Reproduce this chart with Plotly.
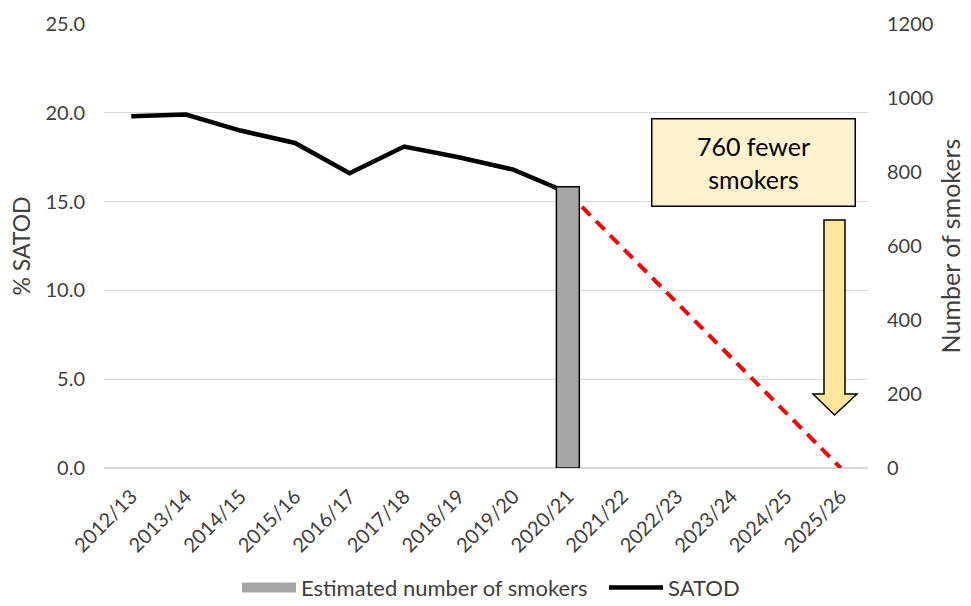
import plotly.graph_objects as go

years = ["2012/13", "2013/14", "2014/15", "2015/16", "2016/17", "2017/18", "2018/19",
         "2019/20", "2020/21", "2021/22", "2022/23", "2023/24", "2024/25", "2025/26"]
satod_years = years[:9]
satod = [19.8, 19.9, 19.0, 18.3, 16.6, 18.1, 17.5, 16.8, 15.5]
bar_years = ["2020/21"]
smokers = [760]
proj_years = ["2020/21", "2025/26"]
proj = [15.5, 0.0]

FONT = "Lato, Calibri, sans-serif"
TXT = "#404040"
BAR_COLOR = "#a6a6a6"

fig = go.Figure()
fig.add_trace(go.Bar(x=bar_years, y=smokers, yaxis="y2", name="Estimated number of smokers",
                     width=0.42, showlegend=False,
                     marker=dict(color=BAR_COLOR, line=dict(color="#000000", width=1.5))))
# legend-only entry drawn as a wide grey swatch
fig.add_trace(go.Scatter(x=[None], y=[None], mode="lines", name="Estimated number of smokers",
                         line=dict(color=BAR_COLOR, width=14)))
fig.add_trace(go.Scatter(x=satod_years, y=satod, mode="lines", name="SATOD",
                         line=dict(color="#000000", width=4.5)))
fig.add_trace(go.Scatter(x=proj_years, y=proj, mode="lines", showlegend=False,
                         line=dict(color="#ff0000", width=4, dash="12px,8px")))

# annotation box
fig.add_annotation(xref="paper", yref="paper", x=0.850, y=0.687, xanchor="center", yanchor="middle",
                   text="760 fewer<br>smokers", showarrow=False,
                   font=dict(family=FONT, size=25, color="#000000"),
                   bgcolor="#fff2cc", bordercolor="#000000", borderwidth=1.5,
                   width=200, height=84)

# down arrow
fig.add_shape(type="path", xref="paper", yref="paper",
              path="M 0.9424,0.5586 L 0.9699,0.5586 L 0.9699,0.1667 L 0.9856,0.1667 "
                   "L 0.9562,0.1194 L 0.9280,0.1667 L 0.9424,0.1667 Z",
              fillcolor="#ffe699", line=dict(color="#000000", width=1.5))

fig.update_layout(
    width=971, height=606,
    margin=dict(l=104, r=103, t=24, b=138),
    paper_bgcolor="#ffffff", plot_bgcolor="#ffffff",
    font=dict(family=FONT, size=20, color=TXT),
    showlegend=True,
    legend=dict(orientation="h", x=0.185, xanchor="left", yref="container", y=0.03,
                yanchor="middle", font=dict(family=FONT, size=22, color=TXT),
                traceorder="normal", itemwidth=54, entrywidth=298),
    xaxis=dict(type="category", categoryorder="array", categoryarray=years,
               range=[-0.5, 13.5], tickangle=-45, showgrid=False, automargin=False,
               showline=False, ticks="", ticklabelstandoff=12,
               tickfont=dict(family=FONT, size=20, color=TXT)),
    yaxis=dict(range=[0, 25], dtick=5, tickformat=".1f", showgrid=True, automargin=False,
               gridcolor="#d9d9d9", gridwidth=1.2, zeroline=True, zerolinecolor="#d9d9d9",
               zerolinewidth=1.5, ticks="", showline=False, ticklabelstandoff=18,
               title=dict(text="% SATOD", font=dict(family=FONT, size=23, color=TXT), standoff=8),
               tickfont=dict(family=FONT, size=20, color=TXT)),
    yaxis2=dict(range=[0, 1200], dtick=200, overlaying="y", side="right", showgrid=False,
                zeroline=False, ticks="", showline=False, automargin=False, ticklabelstandoff=18,
                title=dict(text="Number of smokers", font=dict(family=FONT, size=25, color=TXT), standoff=10),
                tickfont=dict(family=FONT, size=20, color=TXT)),
    bargap=0.5,
)

fig.write_html("out.html")
